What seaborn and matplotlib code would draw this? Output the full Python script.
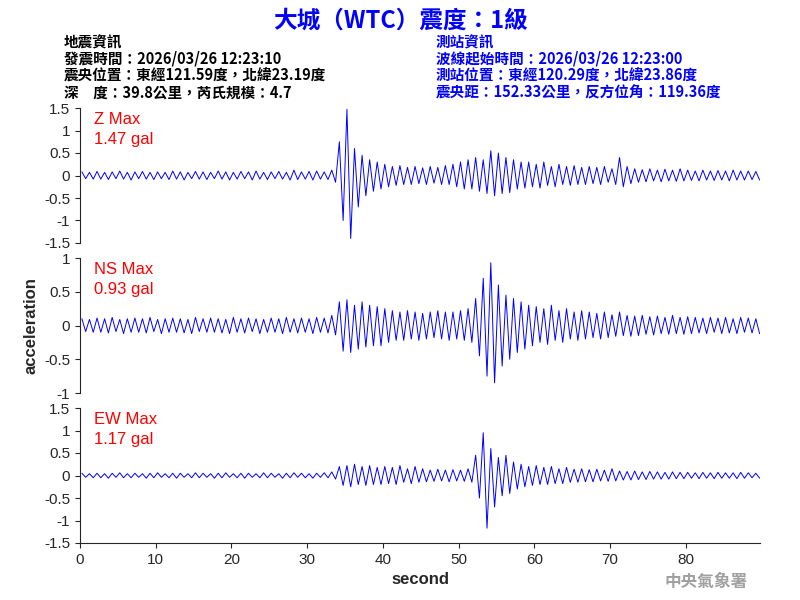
import matplotlib
matplotlib.use("Agg")
import matplotlib.pyplot as plt
import seaborn as sns
import numpy as np
import pandas as pd

sns.set_style("ticks")
plt.rcParams['font.family'] = ['Noto Sans CJK TC', 'DejaVu Sans']

seconds = list(range(90))
# per-second positive and negative peaks
z_max = [0.08,0.07,0.09,0.07,0.08,0.1,0.07,0.08,0.09,0.07,0.08,0.07,0.1,0.08,0.07,0.09,0.08,0.07,0.1,0.08,
         0.07,0.09,0.08,0.1,0.07,0.08,0.09,0.07,0.12,0.08,0.09,0.1,0.08,0.12,0.75,1.47,0.6,0.45,0.35,0.3,
         0.25,0.2,0.22,0.18,0.2,0.17,0.2,0.18,0.22,0.25,0.3,0.35,0.4,0.35,0.55,0.5,0.4,0.35,0.3,0.3,
         0.25,0.3,0.2,0.25,0.2,0.22,0.18,0.2,0.18,0.2,0.15,0.4,0.2,0.15,0.13,0.15,0.12,0.14,0.12,0.15,
         0.12,0.1,0.12,0.1,0.11,0.1,0.12,0.1,0.1,0.09]
z_min = [-0.07,-0.08,-0.08,-0.09,-0.07,-0.08,-0.1,-0.07,-0.08,-0.09,-0.07,-0.09,-0.08,-0.1,-0.07,-0.08,-0.09,-0.07,-0.08,-0.1,
         -0.08,-0.07,-0.1,-0.08,-0.09,-0.07,-0.08,-0.1,-0.09,-0.08,-0.1,-0.08,-0.09,-0.15,-1.0,-1.4,-0.7,-0.45,-0.35,-0.3,
         -0.25,-0.22,-0.2,-0.2,-0.18,-0.2,-0.17,-0.2,-0.2,-0.25,-0.3,-0.3,-0.35,-0.4,-0.45,-0.4,-0.38,-0.3,-0.28,-0.25,
         -0.28,-0.22,-0.25,-0.2,-0.22,-0.2,-0.2,-0.18,-0.2,-0.15,-0.2,-0.25,-0.18,-0.15,-0.14,-0.12,-0.14,-0.12,-0.13,-0.12,
         -0.11,-0.12,-0.1,-0.11,-0.1,-0.12,-0.1,-0.1,-0.09,-0.1]
ns_max = [0.1,0.09,0.11,0.1,0.12,0.09,0.1,0.11,0.1,0.12,0.09,0.1,0.11,0.1,0.09,0.12,0.1,0.11,0.1,0.09,
          0.12,0.1,0.11,0.1,0.09,0.11,0.1,0.12,0.1,0.11,0.1,0.12,0.11,0.15,0.35,0.38,0.3,0.35,0.3,0.28,
          0.25,0.22,0.2,0.22,0.2,0.18,0.2,0.22,0.2,0.2,0.22,0.25,0.4,0.7,0.93,0.6,0.45,0.4,0.35,0.3,
          0.28,0.25,0.3,0.22,0.25,0.2,0.22,0.2,0.18,0.2,0.16,0.2,0.15,0.14,0.15,0.13,0.14,0.12,0.15,0.12,
          0.13,0.12,0.11,0.12,0.11,0.12,0.1,0.12,0.11,0.1]
ns_min = [-0.09,-0.1,-0.1,-0.11,-0.09,-0.12,-0.1,-0.1,-0.11,-0.09,-0.12,-0.1,-0.1,-0.11,-0.12,-0.09,-0.1,-0.1,-0.11,-0.12,
          -0.1,-0.11,-0.09,-0.12,-0.1,-0.1,-0.12,-0.1,-0.11,-0.1,-0.12,-0.1,-0.11,-0.14,-0.38,-0.4,-0.35,-0.32,-0.3,-0.3,
          -0.25,-0.22,-0.22,-0.2,-0.22,-0.2,-0.18,-0.2,-0.22,-0.2,-0.22,-0.25,-0.45,-0.75,-0.85,-0.6,-0.5,-0.4,-0.35,-0.3,
          -0.25,-0.28,-0.22,-0.25,-0.2,-0.22,-0.2,-0.18,-0.2,-0.18,-0.16,-0.15,-0.16,-0.15,-0.13,-0.14,-0.12,-0.13,-0.12,-0.13,
          -0.12,-0.11,-0.12,-0.1,-0.12,-0.11,-0.12,-0.1,-0.11,-0.12]
ew_max = [0.05,0.04,0.05,0.04,0.05,0.06,0.04,0.05,0.04,0.05,0.06,0.04,0.05,0.05,0.04,0.06,0.05,0.04,0.05,0.06,
          0.04,0.05,0.05,0.04,0.06,0.05,0.04,0.05,0.06,0.05,0.04,0.05,0.06,0.08,0.2,0.22,0.25,0.2,0.22,0.18,
          0.2,0.18,0.22,0.15,0.2,0.15,0.12,0.14,0.12,0.13,0.12,0.15,0.45,0.95,0.6,0.4,0.45,0.3,0.25,0.2,
          0.22,0.18,0.2,0.15,0.18,0.14,0.15,0.13,0.14,0.12,0.15,0.1,0.09,0.1,0.08,0.09,0.08,0.07,0.08,0.07,
          0.07,0.06,0.07,0.06,0.07,0.06,0.06,0.07,0.06,0.05]
ew_min = [-0.04,-0.05,-0.05,-0.06,-0.04,-0.05,-0.05,-0.04,-0.06,-0.05,-0.04,-0.05,-0.06,-0.04,-0.05,-0.05,-0.04,-0.06,-0.05,-0.04,
          -0.05,-0.06,-0.04,-0.05,-0.05,-0.04,-0.06,-0.05,-0.04,-0.05,-0.06,-0.04,-0.05,-0.08,-0.22,-0.25,-0.2,-0.22,-0.2,-0.2,
          -0.18,-0.2,-0.15,-0.18,-0.15,-0.14,-0.13,-0.12,-0.14,-0.12,-0.13,-0.15,-0.5,-1.17,-0.7,-0.45,-0.4,-0.3,-0.25,-0.22,
          -0.2,-0.2,-0.18,-0.18,-0.15,-0.15,-0.14,-0.14,-0.12,-0.13,-0.12,-0.1,-0.1,-0.09,-0.09,-0.08,-0.08,-0.08,-0.07,-0.07,
          -0.06,-0.07,-0.06,-0.07,-0.06,-0.06,-0.07,-0.06,-0.05,-0.06]

channels = [("Z Max", "1.47 gal", z_max, z_min, 1.5, [1.5,1,0.5,0,-0.5,-1,-1.5]),
            ("NS Max", "0.93 gal", ns_max, ns_min, 1.0, [1,0.5,0,-0.5,-1]),
            ("EW Max", "1.17 gal", ew_max, ew_min, 1.5, [1.5,1,0.5,0,-0.5,-1,-1.5])]

LAT = ["Liberation Sans", "DejaVu Sans"]
fig = plt.figure(figsize=(8, 6), dpi=100)
fig.patch.set_facecolor("white")
boxes = [(0.1, 0.595, 0.85, 0.225), (0.1, 0.345, 0.85, 0.225), (0.1, 0.095, 0.85, 0.225)]

for i, (name, val, mx, mn, lim, ticks) in enumerate(channels):
    ax = fig.add_axes(boxes[i])
    t, a = [], []
    for s, hi, lo in zip(seconds, mx, mn):
        t += [s + 0.25, s + 0.75]
        a += [hi, lo]
    df = pd.DataFrame({"t": t, "a": a})
    sns.lineplot(data=df, x="t", y="a", ax=ax, color="blue", lw=0.7, estimator=None)
    ax.set_xlim(0, 89.8)
    ax.set_ylim(-lim, lim)
    ax.set_yticks(ticks)
    ax.set_yticklabels([f"{v:g}" for v in ticks], fontsize=11, family=LAT)
    ax.set_xlabel("")
    ax.set_ylabel("")
    ax.spines["top"].set_visible(False)
    ax.spines["right"].set_visible(False)
    ax.text(0.02, 0.97, name + "\n" + val, transform=ax.transAxes, color="red",
            fontsize=12, va="top", family=LAT, linespacing=1.45)
    if i < 2:
        ax.spines["bottom"].set_visible(False)
        ax.set_xticks([])
    else:
        ax.set_xticks([0, 10, 20, 30, 40, 50, 60, 70, 80])
        ax.set_xticklabels([str(v) for v in [0, 10, 20, 30, 40, 50, 60, 70, 80]], fontsize=11, family=LAT)
        ax.set_xlabel("second", fontsize=12, family=LAT, fontweight="bold")
    if i == 1:
        ax.set_ylabel("acceleration", fontsize=12, family=LAT, fontweight="bold")

fig.text(0.5, 0.965, "大城（WTC）震度：1級", color="blue", fontsize=17, fontweight="bold", ha="center", va="center")
left = "地震資訊\n發震時間：2026/03/26 12:23:10\n震央位置：東經121.59度，北緯23.19度\n深　度：39.8公里，芮氏規模：4.7"
right = "測站資訊\n波線起始時間：2026/03/26 12:23:00\n測站位置：東經120.29度，北緯23.86度\n震央距：152.33公里，反方位角：119.36度"
fig.text(0.08, 0.943, left, color="black", fontsize=10.5, fontweight="bold", va="top", linespacing=1.05)
fig.text(0.545, 0.943, right, color="blue", fontsize=10.5, fontweight="bold", va="top", linespacing=1.05)
fig.text(0.935, 0.03, "中央氣象署", color="#a0a0a0", fontsize=12, fontweight="bold", ha="right", va="center")

fig.savefig("out.png", dpi=100)
